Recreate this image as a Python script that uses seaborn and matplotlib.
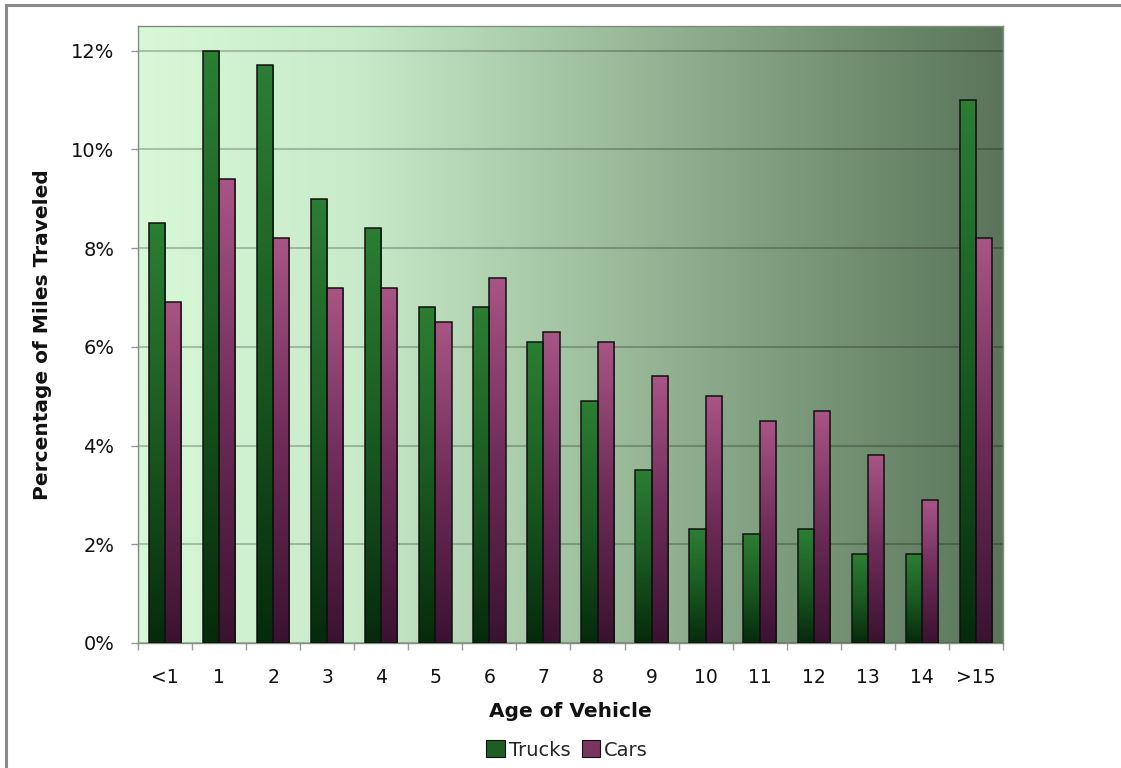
import numpy as np
import pandas as pd
import matplotlib
matplotlib.use('Agg')
import matplotlib.pyplot as plt
import seaborn as sns
from matplotlib.colors import LinearSegmentedColormap
from matplotlib.patches import Patch, Rectangle

ages = ['<1', '1', '2', '3', '4', '5', '6', '7', '8', '9', '10', '11', '12', '13', '14', '>15']
trucks = [8.5, 12.0, 11.7, 9.0, 8.4, 6.8, 6.8, 6.1, 4.9, 3.5, 2.3, 2.2, 2.3, 1.8, 1.8, 11.0]
cars = [6.9, 9.4, 8.2, 7.2, 7.2, 6.5, 7.4, 6.3, 6.1, 5.4, 5.0, 4.5, 4.7, 3.8, 2.9, 8.2]
series = ['Trucks', 'Cars']
y_ticks = [0, 2, 4, 6, 8, 10, 12]
y_ticklabels = ['0%', '2%', '4%', '6%', '8%', '10%', '12%']

df = pd.DataFrame({
    'age': ages * 2,
    'pct': trucks + cars,
    'vehicle': ['Trucks'] * len(ages) + ['Cars'] * len(ages),
})

sns.set_theme(style='white')
plt.rcParams['font.family'] = ['DejaVu Sans']

fig = plt.figure(figsize=(11.21, 7.68), dpi=100)
ax = fig.add_axes([0.1231, 0.1628, 0.7716, 0.8034])

# outer frame
fig.patches.append(Rectangle((6 / 1121, -0.1), 1.2, 1.1 - 5.5 / 768, transform=fig.transFigure,
                             fill=False, edgecolor='#8a8a8a', linewidth=2.2, zorder=0))

sns.barplot(data=df, x='age', y='pct', hue='vehicle', order=ages, hue_order=series,
            palette=['#1e5e24', '#7a3460'], width=0.6, gap=0, edgecolor='#111111',
            linewidth=1.1, legend=False, ax=ax, zorder=3)

# bar gradients
grads = [LinearSegmentedColormap.from_list('t', ['#062a0c', '#1a5a22', '#2c7e34']),
         LinearSegmentedColormap.from_list('c', ['#3a1230', '#6e2c58', '#a85585'])]
g = np.linspace(0, 1, 256).reshape(-1, 1)
for cont, cm in zip(ax.containers, grads):
    for bar in cont:
        x0, w, h = bar.get_x(), bar.get_width(), bar.get_height()
        im = ax.imshow(g, extent=[x0, x0 + w, 0, h], origin='lower', cmap=cm,
                       aspect='auto', zorder=2.8)
        im.set_clip_path(bar)
        bar.set_facecolor('none')
        bar.set_zorder(3)

# background gradient
bg = LinearSegmentedColormap.from_list('bg', ['#d8f8d8', '#c9ebc9', '#a3c4a3', '#7d9b7d', '#5a755a'])
ax.imshow(np.linspace(0, 1, 256).reshape(1, -1), extent=[0, 1, 0, 1], transform=ax.transAxes,
          cmap=bg, aspect='auto', zorder=0)

ax.set_xlim(-0.5, len(ages) - 0.5)
ax.set_ylim(0, 12.5)
ax.set_yticks(y_ticks)
ax.set_yticklabels(y_ticklabels)
ax.yaxis.grid(True, color='#000000', alpha=0.22, linewidth=1.5)
ax.set_axisbelow(True)

ax.set_xticks(range(len(ages)))
ax.set_xticklabels(ages)
ax.set_xticks(np.arange(-0.5, len(ages), 1), minor=True)
ax.tick_params(axis='x', which='major', length=0, pad=18, labelsize=13.5, colors='#111111')
ax.tick_params(axis='x', which='minor', length=5, width=1, color='#999999', direction='out', bottom=True)
ax.tick_params(axis='y', length=5, width=1, color='#999999', direction='out', left=True,
               pad=12, labelsize=14, labelcolor='#111111')

for s in ax.spines.values():
    s.set_color('#7f8f7f')
    s.set_linewidth(1)

ax.set_xlabel('Age of Vehicle', fontsize=14.5, fontweight='bold', labelpad=11, color='#111111')
ax.set_ylabel('Percentage of Miles Traveled', fontsize=14.5, fontweight='bold', labelpad=14, color='#111111')

handles = [Patch(facecolor='#1e5e24', edgecolor='#111111', linewidth=0.8, label='Trucks'),
           Patch(facecolor='#7a3460', edgecolor='#111111', linewidth=0.8, label='Cars')]
fig.legend(handles=handles, loc='center', bbox_to_anchor=(0.506, 0.0234), ncol=2, frameon=False,
           fontsize=14, handlelength=0.95, handleheight=0.95, handletextpad=0.2,
           columnspacing=0.6)

fig.savefig('out.png', dpi=100)
